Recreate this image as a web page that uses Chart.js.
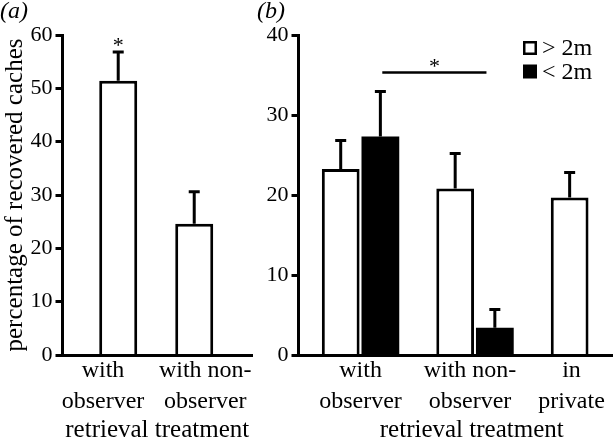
<!DOCTYPE html>
<html>
<head>
<meta charset="utf-8">
<script src="https://cdn.jsdelivr.net/npm/chart.js@4.4.0/dist/chart.umd.min.js"></script>
<style>
  html, body { margin: 0; padding: 0; background: #fff; overflow: hidden; }
  #wrap { position: relative; width: 613px; height: 443px; overflow: hidden; background: #fff; }
  #chartA { position: absolute; left: 0; top: 0; }
  #chartB { position: absolute; left: 250px; top: 0; }
</style>
</head>
<body>
<div id="wrap">
  <canvas id="chartA" width="256" height="443"></canvas>
  <canvas id="chartB" width="400" height="443"></canvas>
</div>
<script>
// panel (a)
const catsA = [['with', 'observer'], ['with non-', 'observer']];
const meanA = [51.4, 24.6];
const errA = [5.4, 6.0];
const starA = 0; // bar with the asterisk

// panel (b)
const catsB = [['with', 'observer'], ['with non-', 'observer'], ['in', 'private']];
const seriesB = ['> 2m', '< 2m'];
const farB = [23.25, 20.8, 19.7];
const farErrB = [3.55, 4.4, 3.1];
const nearB = [27.3, 3.4, null];
const nearErrB = [5.65, 2.3, null];
const sigB = { from: 1.19, to: 2.1, y: 35.3 };

const yTicksA = { min: 0, max: 60, step: 10 };
const yTicksB = { min: 0, max: 40, step: 10 };

const SERIF = '"Liberation Serif", "Times New Roman", serif';
Chart.defaults.font.family = SERIF;
Chart.defaults.color = '#000';

const toPoints = (vals) => vals.map((v, i) => ({ x: i + 1, y: v }));

const errorBars = {
  id: 'errorBars',
  afterDatasetsDraw(chart) {
    const ctx = chart.ctx;
    const ys = chart.scales.y;
    chart.data.datasets.forEach((ds, di) => {
      const meta = chart.getDatasetMeta(di);
      meta.data.forEach((bar, i) => {
        const v = ds.data[i].y;
        const e = ds.err[i];
        if (v == null || e == null) return;
        const top = ys.getPixelForValue(v + e);
        ctx.save();
        ctx.strokeStyle = '#000';
        ctx.lineWidth = 3;
        ctx.beginPath();
        ctx.moveTo(bar.x, bar.y);
        ctx.lineTo(bar.x, top - 1.5);
        ctx.moveTo(bar.x - 5.5, top);
        ctx.lineTo(bar.x + 5.5, top);
        ctx.stroke();
        ctx.restore();
      });
    });
  }
};

const panelA = {
  id: 'panelA',
  afterDraw(chart) {
    const { ctx, scales: { x, y } } = chart;
    ctx.save();
    ctx.fillStyle = '#000';
    ctx.font = 'italic 24px ' + SERIF;
    ctx.textAlign = 'left';
    ctx.textBaseline = 'alphabetic';
    ctx.fillText('(a)', 0, 18);
    ctx.font = '22px ' + SERIF;
    ctx.textAlign = 'center';
    ctx.fillText('*', x.getPixelForValue(starA + 1), y.getPixelForValue(meanA[starA] + errA[starA]));
    ctx.restore();
  }
};

const panelB = {
  id: 'panelB',
  afterDraw(chart) {
    const { ctx, chartArea, scales: { x, y } } = chart;
    ctx.save();
    ctx.fillStyle = '#000';
    ctx.font = 'italic 24px ' + SERIF;
    ctx.textBaseline = 'alphabetic';
    ctx.fillText('(b)', 7, 18);

    // significance bar
    const x1 = x.getPixelForValue(sigB.from), x2 = x.getPixelForValue(sigB.to);
    const sy = y.getPixelForValue(sigB.y);
    ctx.strokeStyle = '#000';
    ctx.lineWidth = 2.5;
    ctx.beginPath();
    ctx.moveTo(x1, sy);
    ctx.lineTo(x2, sy);
    ctx.stroke();
    ctx.font = '22px ' + SERIF;
    ctx.textAlign = 'center';
    ctx.fillText('*', (x1 + x2) / 2, sy);

    // legend
    const lx = chartArea.right - 122;
    const ly = chartArea.top + 6;
    ctx.textAlign = 'left';
    ctx.font = '24px ' + SERIF;
    chart.data.datasets.forEach((ds, i) => {
      const by = ly + i * 23.5;
      ctx.fillStyle = '#000';
      ctx.fillRect(lx, by, 14, 14);
      ctx.fillStyle = ds.backgroundColor;
      ctx.fillRect(lx + 2.5, by + 2.5, 9, 9);
      ctx.fillStyle = '#000';
      ctx.fillText(ds.label, lx + 19, by + 14);
    });
    ctx.restore();
  }
};

function yAxis(t, width, title) {
  return {
    min: t.min, max: t.max,
    ticks: { stepSize: t.step, font: { size: 22 }, color: '#000', padding: 3 },
    grid: { drawOnChartArea: false, drawTicks: true, tickLength: 7, tickWidth: 3, tickColor: '#000', color: '#000' },
    border: { color: '#000', width: 3, z: 1 },
    title: {
      display: !!title, text: title || '', color: '#000',
      font: { size: 25, lineHeight: 1 }, padding: { top: 3, bottom: 0 }
    },
    afterFit: s => { s.width = width; }
  };
}

// axis that carries the bars (border only)
function xBars(cats, min, max) {
  return {
    type: 'linear', min, max, offset: false, bounds: 'data',
    afterBuildTicks: s => { s.ticks = cats.map((c, i) => ({ value: i + 1 })); },
    grid: { display: false },
    border: { display: true, color: '#000', width: 3, z: 1 },
    ticks: { display: false },
    afterFit: s => { s.height = 0; }
  };
}

// axis that carries the category labels and title (labels nudged off the bar centres)
function xLabels(cats, min, max, shift) {
  return {
    type: 'linear', axis: 'x', position: 'bottom', weight: 1,
    min, max, offset: false, bounds: 'data',
    afterBuildTicks: s => { s.ticks = cats.map((c, i) => ({ value: i + 1 + (shift[i] || 0) })); },
    grid: { display: false },
    border: { display: false },
    ticks: {
      callback: (v, i) => cats[i],
      font: { size: 24, lineHeight: 1.3 },
      color: '#000', padding: -8, maxRotation: 0, autoSkip: false
    },
    title: {
      display: true, text: 'retrieval treatment', color: '#000',
      font: { size: 25, lineHeight: 1 }, padding: { top: 0, bottom: 0 }
    },
    afterFit: s => { s.height = 88; }
  };
}

new Chart(document.getElementById('chartA'), {
  type: 'bar',
  data: {
    datasets: [{
      data: toPoints(meanA),
      err: errA,
      backgroundColor: '#fff',
      borderColor: '#000',
      borderWidth: 3,
      categoryPercentage: 1,
      barPercentage: 0.5
    }]
  },
  options: {
    responsive: false,
    animation: false,
    layout: { padding: { top: 35, right: 4, left: 0, bottom: 0 } },
    plugins: { legend: { display: false }, tooltip: { enabled: false } },
    scales: {
      x: xBars(catsA, 0.267, 2.76),
      xl: xLabels(catsA, 0.267, 2.76, [-0.2, 0.145]),
      y: yAxis(yTicksA, 62.5, 'percentage of recovered caches')
    }
  },
  plugins: [errorBars, panelA]
});

new Chart(document.getElementById('chartB'), {
  type: 'bar',
  data: {
    datasets: [{
      label: seriesB[0],
      data: toPoints(farB),
      err: farErrB,
      backgroundColor: '#fff',
      borderColor: '#000',
      borderWidth: 3,
      categoryPercentage: 0.693,
      barPercentage: 0.952
    }, {
      label: seriesB[1],
      data: toPoints(nearB),
      err: nearErrB,
      backgroundColor: '#000',
      borderWidth: 0,
      categoryPercentage: 0.693,
      barPercentage: 0.952
    }]
  },
  options: {
    responsive: false,
    animation: false,
    layout: { padding: { top: 35, right: 5, left: 0, bottom: 0 } },
    plugins: { legend: { display: false }, tooltip: { enabled: false } },
    scales: {
      x: xBars(catsB, 0.458, 3.485),
      xl: xLabels(catsB, 0.458, 3.485, [0, -0.044, -0.157]),
      y: yAxis(yTicksB, 48.5, '')
    }
  },
  plugins: [errorBars, panelB]
});
</script>
</body>
</html>
